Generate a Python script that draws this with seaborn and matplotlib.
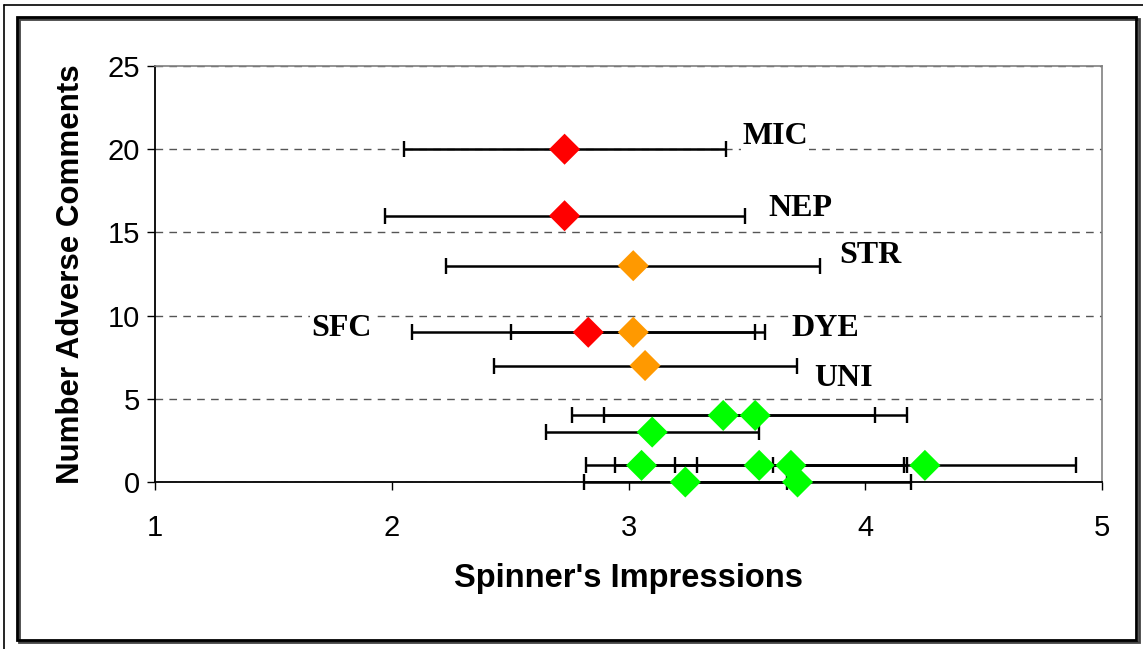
import matplotlib
matplotlib.use("Agg")
import matplotlib.pyplot as plt
import pandas as pd
import seaborn as sns
from matplotlib.patches import Rectangle
from matplotlib.lines import Line2D

# ---- data ----
impression = [2.73, 2.73, 3.02, 2.83, 3.02, 3.07, 3.40, 3.535, 3.10, 3.055, 3.552, 3.686, 4.252, 3.24, 3.714]
adverse = [20, 16, 13, 9, 9, 7, 4, 4, 3, 1, 1, 1, 1, 0, 0]
spread = [0.68, 0.76, 0.79, 0.745, 0.515, 0.64, 0.64, 0.64, 0.45, 0.236, 0.61, 0.49, 0.64, 0.43, 0.48]
level = ["high", "high", "mid", "high", "mid", "mid",
         "low", "low", "low", "low", "low", "low", "low", "low", "low"]
codes = ["MIC", "NEP", "STR", "SFC", "DYE", "UNI"] + [""] * 9

x_ticks = [1, 2, 3, 4, 5]
y_ticks = [0, 5, 10, 15, 20, 25]
x_title = "Spinner's Impressions"
y_title = "Number Adverse Comments"

# ---- style / layout ----
palette = {"high": "#FF0000", "mid": "#FF9900", "low": "#00FF00"}
# label placement: (anchor side, offset in points)
label_place = {
    "MIC": ("right", (12, 9)),
    "NEP": ("right", (17, 5)),
    "STR": ("right", (14, 7)),
    "SFC": ("left", (-29, 3)),
    "DYE": ("right", (26, 3)),
    "UNI": ("right", (13, -9)),
}

sns.set_style("white")
plt.rcParams["font.family"] = ["Liberation Sans", "DejaVu Sans"]
plt.rcParams.update({"text.color": "black", "axes.labelcolor": "black",
                     "xtick.color": "black", "ytick.color": "black"})

df = pd.DataFrame({"impression": impression, "adverse": adverse,
                   "spread": spread, "level": level, "code": codes})

fig = plt.figure(figsize=(11.43, 6.49), dpi=100)
ax = fig.add_axes([155 / 1143, 1 - 482 / 649, (1102 - 155) / 1143, (482 - 66) / 649])

eb = ax.errorbar(df["impression"], df["adverse"], xerr=df["spread"], fmt="none",
                 ecolor="black", elinewidth=1.8, capsize=6, capthick=1.7, zorder=3)
for art in eb.get_children():
    art.set_clip_on(False)
sns.scatterplot(data=df, x="impression", y="adverse", hue="level", palette=palette,
                marker="D", s=250, edgecolor="none", linewidth=0, legend=False,
                ax=ax, zorder=4, clip_on=False)

for _, row in df[df["code"] != ""].iterrows():
    side, off = label_place[row["code"]]
    if side == "right":
        xy = (row["impression"] + row["spread"], row["adverse"])
        ha = "left"
    else:
        xy = (row["impression"] - row["spread"], row["adverse"])
        ha = "right"
    ax.annotate(row["code"], xy=xy, xytext=off, textcoords="offset points",
                ha=ha, va="center", fontsize=23, fontweight="bold", color="black",
                family=["Liberation Serif", "DejaVu Serif"], zorder=5,
                bbox=dict(boxstyle="square,pad=0.05", fc="white", ec="none"))

ax.set_xlim(1, 5)
ax.set_ylim(0, 25)
ax.set_xticks(x_ticks)
ax.set_yticks(y_ticks)
ax.tick_params(axis="x", direction="out", length=6, width=1, labelsize=21, pad=17,
               bottom=True, colors="black")
ax.tick_params(axis="y", direction="out", length=6, width=1, labelsize=21, pad=5,
               left=True, colors="black")
ax.set_xlabel(x_title, fontsize=23.5, fontweight="bold", labelpad=15, color="black")
ax.set_ylabel(y_title, fontsize=22.5, fontweight="bold", labelpad=15, color="black")

ax.yaxis.grid(True, linestyle=(0, (5.5, 4.5)), color="#555555", linewidth=1)
ax.xaxis.grid(False)
ax.set_axisbelow(True)
for s in ["left", "bottom"]:
    ax.spines[s].set_color("black")
    ax.spines[s].set_linewidth(1.3)
for s in ["top", "right"]:
    ax.spines[s].set_color("#808080")
    ax.spines[s].set_linewidth(1.2)

# figure frame: outer thin line (top/left) and inner box with shadow
W, H = 1143, 649
def fx(px):
    return px / W
def fy(py):
    return 1 - py / H
fig.add_artist(Line2D([fx(4), fx(W + 5)], [fy(5), fy(5)], color="black", lw=1.2,
                      transform=fig.transFigure))
fig.add_artist(Line2D([fx(4), fx(4)], [fy(5), fy(H + 5)], color="black", lw=1.2,
                      transform=fig.transFigure))
fig.add_artist(Rectangle((fx(19), fy(642)), fx(1139) - fx(19), fy(19) - fy(642),
                         transform=fig.transFigure, fill=False, ec="#444444", lw=2))
fig.add_artist(Rectangle((fx(17), fy(640)), fx(1136) - fx(17), fy(17) - fy(640),
                         transform=fig.transFigure, fill=False, ec="black", lw=2))

fig.savefig("out.png", dpi=100)
